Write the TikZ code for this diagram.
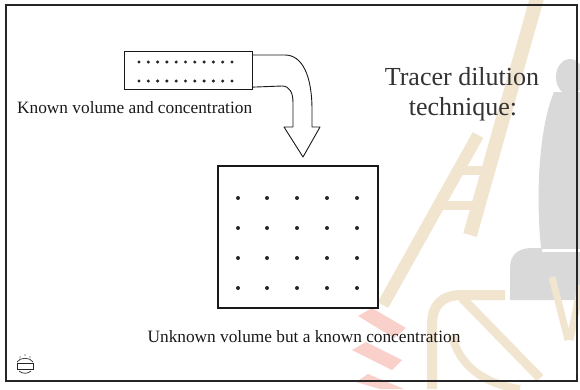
\documentclass[tikz,border=0pt]{standalone}
\usepackage{fontspec}
\setmainfont{Liberation Serif}
\begin{document}
\begin{tikzpicture}[x=1pt,y=-1pt,
  frameline/.style={draw=black!85,line width=1.2pt},
  boxline/.style={draw=black!90,line width=1.1pt},
  arrowline/.style={draw=black!90,line width=0.9pt,line join=round},
  dot/.style={fill=black!85},
  smalltext/.style={font=\fontsize{17.3}{20}\selectfont,inner sep=0pt,text=black!90},
  titletext/.style={font=\fontsize{26}{30}\selectfont,inner sep=0pt,text=black!80},
  wmstroke/.style={draw=wmtan,line cap=butt},
]
\definecolor{wmtan}{RGB}{241,229,207}
\definecolor{wmgray}{RGB}{217,217,217}
\definecolor{wmpink}{RGB}{250,208,202}
\useasboundingbox (0,0) rectangle (580,389);
\fill[white] (0,0) rectangle (580,389);

% --- faint emblem in the background ---
% ladder
\draw[wmstroke,line width=14pt] (537,-2) -- (470,235);
\draw[wmstroke,line width=12pt] (478,135) -- (383,305);
\draw[wmstroke,line width=9pt] (461,170) -- (488,170);
\draw[wmstroke,line width=9pt] (441,205) -- (478,205);
% seated figure
\fill[wmgray] (570,77) ellipse (14 and 18);
\fill[wmgray] (554,92) -- (580,92) -- (580,248) -- (541,248)
  .. controls (536,200) and (538,130) .. (554,92) -- cycle;
\fill[wmgray] (510,300) -- (510,268) .. controls (510,255) and (518,248) .. (532,248)
  -- (580,248) -- (580,300) -- cycle;
\draw[white,line width=3pt] (542,250) -- (580,250);
% leaves
\draw[wmstroke,line width=10pt] (432,389) -- (432,325) .. controls (432,305) and (442,295) .. (462,295)
  -- (505,295);
\draw[wmstroke,line width=9pt] (462,298) -- (540,378);
\draw[wmstroke,line width=8pt] (452,335) .. controls (460,370) and (490,385) .. (520,389);
\draw[wmstroke,line width=7pt] (552,277) -- (568,340);
\draw[wmstroke,line width=7pt] (581,285) -- (570,340);
% stripes
\fill[wmpink] (358,316) -- (372,308) -- (406,328) -- (394,338) -- cycle;
\fill[wmpink] (352,350) -- (366,342) -- (402,360) -- (392,370) -- cycle;
\fill[wmpink] (356,382) -- (368,374) -- (404,389) -- (380,389) -- cycle;

% --- frame ---
\draw[frameline] (6,5) rectangle (577,381);

% --- small container with the known amount ---
\node[boxline,minimum width=128pt,minimum height=38pt,inner sep=0pt,anchor=north west]
  (smallbox) at (124,51) {};
\foreach \r in {62,81}
  \foreach \i in {0,...,10}
    \fill[dot] ({139+\i*9.3},\r) circle (1.7pt);
\node[smalltext,anchor=base west] (knownlabel) at (17,113) {Known volume and concentration};

% --- bent arrow from the small container to the large one ---
\coordinate (arrowtop) at ([yshift=-4pt]smallbox.north east);
\coordinate (arrowbottom) at ([yshift=3pt]smallbox.south east);
\draw[arrowline] (arrowtop) -- (285,55)
  .. controls (302,55) and (312,75) .. (312,110) -- (312,127) -- (320,127)
  -- (303,157) -- (284,127) -- (293,127) -- (293,103)
  .. controls (293,93) and (290,86) .. (282,86) -- (arrowbottom);

% --- large container ---
\node[boxline,line width=1.5pt,minimum width=160pt,minimum height=142pt,inner sep=0pt,anchor=north west]
  (bigbox) at (217,165) {};
\foreach \r in {198,228,258,288}
  \foreach \c in {238,267,297,327,357}
    \fill[dot] (\c,\r) circle (2pt);
\node[smalltext,anchor=base] (unknownlabel) at (304,342) {Unknown volume but a known concentration};

% --- title ---
\node[titletext,anchor=base] (titleone) at (462,85) {Tracer dilution};
\node[titletext,anchor=base] (titletwo) at (463,115) {technique:};

% --- small seal in the corner ---
\begin{scope}[black!85,line width=0.7pt]
  \draw (17,362) .. controls (20,357) and (30,357) .. (33,362);
  \draw (17,363) rectangle (33,369);
  \draw (19,371) .. controls (22,374) and (28,374) .. (31,371);
  \fill (20,357) circle (0.6pt) (25,355) circle (0.6pt) (30,357) circle (0.6pt);
\end{scope}
\node[font=\fontsize{9}{10}\selectfont,inner sep=0pt,text=black!80] (cornermark) at (577,373) {t};
\end{tikzpicture}
\end{document}
